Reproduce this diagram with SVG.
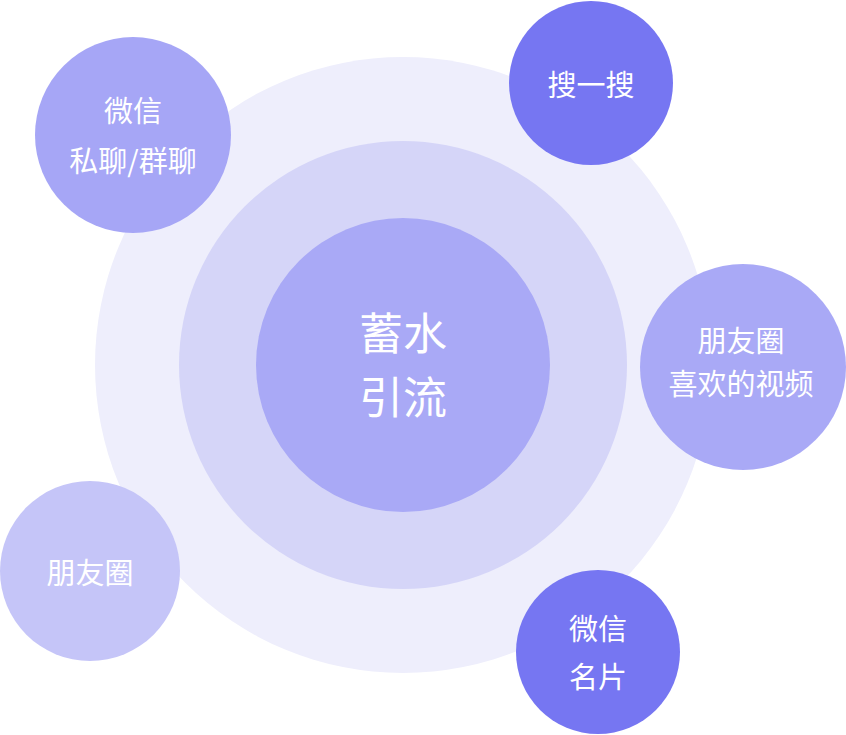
<svg xmlns="http://www.w3.org/2000/svg" width="846" height="735" viewBox="0 0 846 735">
<style>
text{font-family:"Noto Sans CJK SC","Noto Sans",sans-serif;fill:#fff;text-anchor:middle}
.s{font-size:29px}
.c{font-size:44px}
</style>
<rect width="846" height="735" fill="#fff"/>
<g id="rings">
<circle cx="403" cy="365" r="308" fill="#eeeefc"/>
<circle cx="403" cy="365" r="224" fill="#d5d5f8"/>
</g>
<g id="center"><circle cx="403" cy="365" r="147" fill="#a9a9f6"/>
<text class="c" x="403" y="350">蓄水</text><text class="c" x="403" y="414">引流</text></g>
<g id="connectors"></g>
<g id="n1"><circle cx="133" cy="135" r="98" fill="#a6a6f6"/>
<text class="s" x="133" y="122">微信</text><text class="s" x="133" y="172">私聊/群聊</text></g>
<g id="n2"><circle cx="591" cy="83" r="82" fill="#7676f2"/>
<text class="s" x="591" y="96">搜一搜</text></g>
<g id="n3"><circle cx="743" cy="367" r="103" fill="#a4a4f5" fill-opacity="0.95"/>
<text class="s" x="741" y="352">朋友圈</text><text class="s" x="741" y="395">喜欢的视频</text></g>
<g id="n4"><circle cx="90" cy="571" r="90" fill="#c5c5f8"/>
<text class="s" x="90" y="584">朋友圈</text></g>
<g id="n5"><circle cx="598" cy="652" r="82" fill="#7676f2"/>
<text class="s" x="598" y="640">微信</text><text class="s" x="598" y="688">名片</text></g>
</svg>
